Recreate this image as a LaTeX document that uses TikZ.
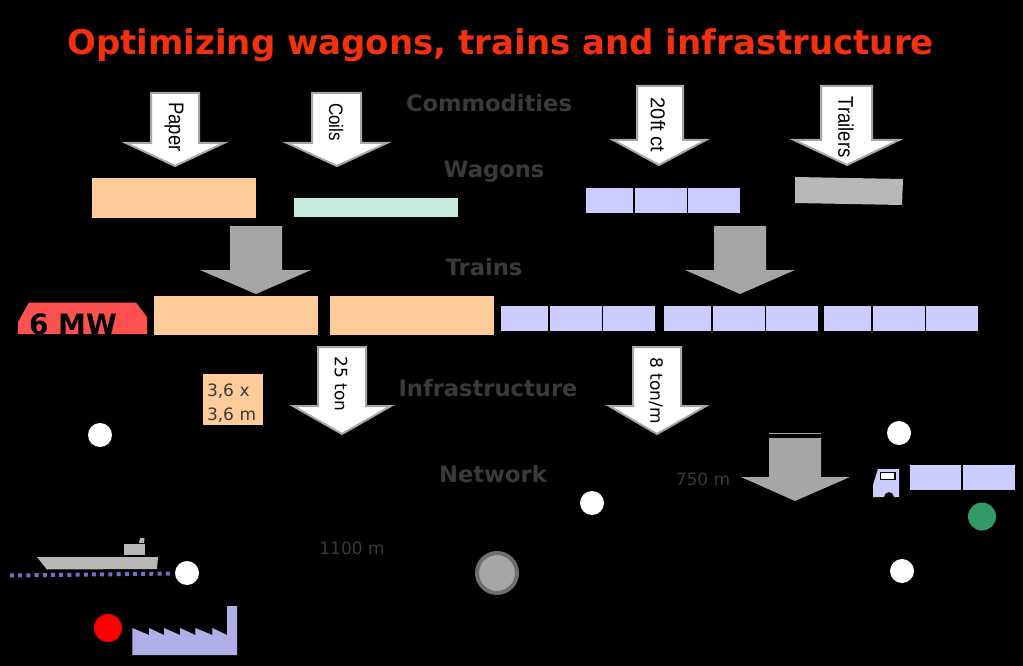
\documentclass[tikz,border=0pt]{standalone}
\usepackage{fontspec}
\setmainfont{DejaVu Sans}
\newfontfamily\arrowfont{Liberation Sans}
\usetikzlibrary{positioning}
\definecolor{TitleRed}{HTML}{F5300F}
\definecolor{LabelGrey}{HTML}{3A3A3A}
\definecolor{ArrowGrey}{HTML}{A6A6A6}
\definecolor{RingGrey}{HTML}{6E6E6E}
\definecolor{PaperOrange}{HTML}{FFCC99}
\definecolor{CoilMint}{HTML}{C6EBDD}
\definecolor{BoxLilac}{HTML}{CCCCFF}
\definecolor{TrailerGrey}{HTML}{B8B8B8}
\definecolor{LocoRed}{HTML}{FF5050}
\definecolor{WorksLilac}{HTML}{B0B0E6}
\definecolor{CanalBlue}{HTML}{7070C8}
\definecolor{PortGreen}{HTML}{339966}

\begin{document}
\begin{tikzpicture}[x=1pt,y=-1pt,node distance=1.5pt]
  \tikzstyle{heading}=[font=\fontsize{22.6}{24}\bfseries\selectfont,text=LabelGrey]
  \tikzstyle{note}=[font=\fontsize{17}{24}\selectfont,text=LabelGrey]
  \tikzstyle{inarrow}=[draw=ArrowGrey,fill=white,line width=2pt,line join=miter]
  \tikzstyle{solidarrow}=[fill=ArrowGrey]
  \tikzstyle{onarrow}=[rotate=-90,text=black,inner sep=0pt]
  \tikzstyle{load}=[fill=PaperOrange,inner sep=0pt,outer sep=0pt,anchor=north west]
  \tikzstyle{box}=[fill=BoxLilac,inner sep=0pt,outer sep=0pt,minimum width=52pt,minimum height=25pt]
  \tikzstyle{firstbox}=[box,minimum width=47pt,anchor=north west]
  \tikzstyle{place}=[circle,fill=white,inner sep=0pt,minimum size=24pt]

  \useasboundingbox (0,0) rectangle (1023,666);
  \fill[black] (0,0) rectangle (1023,666);

  \node[font=\fontsize{34}{36}\bfseries\selectfont,text=TitleRed] (title) at (500.5,45)
    {Optimizing wagons, trains and infrastructure};

  % levels
  \node[heading] (commodities) at (489,103) {Commodities};
  \node[heading] (wagons) at (494,172) {Wagons};
  \node[heading] (trains) at (484,267.5) {Trains};
  \node[heading] (infra) at (488,388) {Infrastructure};
  \node[heading] (network) at (493,474.5) {Network};

  % commodity arrows
  \draw[inarrow] (151,93)--(199,93)--(199,143)--(224,143)--(175,166)--(126,143)--(151,143)--cycle;
  \draw[inarrow] (312,93)--(361,93)--(361,143)--(387,143)--(337,166)--(287,143)--(312,143)--cycle;
  \draw[inarrow] (637,86)--(683,86)--(683,140)--(706,140)--(659,165)--(613,140)--(637,140)--cycle;
  \draw[inarrow] (821,86)--(872,86)--(872,140)--(899,140)--(847,165)--(794,140)--(821,140)--cycle;
  \node[onarrow,yscale=1.15,font=\arrowfont\fontsize{18.5}{20}\selectfont] (paper) at (174,127) {Paper};
  \node[onarrow,yscale=1.15,font=\arrowfont\fontsize{17}{20}\selectfont] (coils) at (336,122) {Coils};
  \node[onarrow,font=\arrowfont\fontsize{20}{22}\selectfont] (ct) at (658,125) {20ft ct};
  \node[onarrow,yscale=1.15,font=\arrowfont\fontsize{18.5}{20}\selectfont] (trailers) at (846,127) {Trailers};

  % wagons
  \node[load,minimum width=164pt,minimum height=40pt] (wpaper) at (92,178) {};
  \node[load,fill=CoilMint,minimum width=164pt,minimum height=19pt] (wcoils) at (294,198) {};
  \node[firstbox,minimum height=24.5pt] (wa) at (586,188) {};
  \node[box,minimum height=24.5pt,right=of wa] (wb) {};
  \node[box,minimum height=24.5pt,right=of wb] (wc) {};
  \fill[TrailerGrey] (795,177)--(903,179)--(902,205)--(795,203)--cycle;

  % into trains
  \fill[solidarrow] (230,226)--(282,226)--(282,270)--(311,270)--(256,294)--(200,270)--(230,270)--cycle;
  \fill[solidarrow] (714,226)--(766,226)--(766,270)--(795,270)--(740,294)--(685,270)--(714,270)--cycle;

  % loco and train
  \fill[LocoRed] (18,334)--(18,322)--(29,302.5)--(136,302.5)--(147,317)--(147,334)--cycle;
  \node[font=\fontsize{28}{30}\bfseries\selectfont,text=black,anchor=base,inner sep=0pt] (mw) at (73,334) {6 MW};
  \node[load,minimum width=164pt,minimum height=39pt] (ta) at (154,296) {};
  \node[load,minimum width=164pt,minimum height=39pt] (tb) at (330,296) {};
  \node[firstbox] (ca) at (501,306) {};
  \node[box,right=of ca] (cb) {};
  \node[box,right=of cb] (cc) {};
  \node[firstbox] (cd) at (664,306) {};
  \node[box,right=of cd] (ce) {};
  \node[box,right=of ce] (cf) {};
  \node[firstbox] (cg) at (824,306) {};
  \node[box,right=of cg] (ch) {};
  \node[box,right=of ch] (ci) {};

  % infrastructure limits
  \draw[inarrow] (318,347)--(366,347)--(366,406)--(391,406)--(342,434)--(293,406)--(318,406)--cycle;
  \draw[inarrow] (633,347)--(681,347)--(681,406)--(706,406)--(657,434)--(609,406)--(633,406)--cycle;
  \node[onarrow,font=\fontsize{17}{20}\selectfont] (axle) at (341,384) {25 ton};
  \node[onarrow,font=\fontsize{17}{20}\selectfont] (metre) at (656,390.5) {8 ton/m};
  \node[load,text=LabelGrey,minimum height=51pt,align=left,text width=60pt,
    font=\fontsize{17}{24}\selectfont,anchor=center] (gauge) at (233,399.5)
    {\rule{0pt}{20pt}\hspace*{4pt}3,6 x\\\hspace*{4pt}3,6 m};

  % network
  \node[place] (pa) at (100,435) {};
  \node[place] (pb) at (187,573) {};
  \node[place] (pc) at (899,433) {};
  \node[place] (pd) at (592,503) {};
  \node[place] (pe) at (902,571) {};
  \node[circle,fill=red,inner sep=0pt,minimum size=28pt] (pf) at (108,628) {};
  \node[circle,fill=PortGreen,inner sep=0pt,minimum size=28pt] (pg) at (982,516.5) {};
  \node[circle,fill=ArrowGrey,draw=RingGrey,line width=4pt,inner sep=0pt,minimum size=40pt] (ph) at (497,573) {};
  \node[note] (tlen) at (703,479) {750 m};
  \node[note] (dist) at (352,548) {1100 m};

  % train length arrow
  \draw[ArrowGrey,line width=0.8pt] (769,433.7)--(821,433.7);
  \fill[solidarrow] (769,438)--(821,438)--(821,477)--(850,477)--(795,501)--(741,477)--(769,477)--cycle;

  % truck
  \fill[BoxLilac] (873,497)--(873,485)--(878,469)--(899,469)--(899,497)--(894,497)
    arc[start angle=0,end angle=-180,radius=5]--cycle;
  \draw[black,fill=white,line width=1.3pt] (880.5,472.5) rectangle (895,479.5);
  \node[firstbox,minimum width=51.5pt] (ta1) at (909.5,465) {};
  \node[box,right=of ta1] (ta2) {};

  % ship and canal
  \fill[TrailerGrey] (37,557)--(158,557)--(157,569)--(47,569.5)--cycle;
  \fill[TrailerGrey] (124,544) rectangle (145,555);
  \fill[TrailerGrey] (140,538)--(144.5,538)--(144,543)--(139,543)--cycle;
  \draw[CanalBlue,line width=4pt,dash pattern=on 4pt off 4.2pt] (10,575.5)--(172,573.5);

  % works
  \fill[WorksLilac] (132.3,655)--(132.3,628)--(149,635)--(149,628)--(164,635)--(164,628)--(180,635)
    --(180,628)--(195.3,635)--(195.3,628)--(212.3,635)--(212.3,628)--(227,635)--(227,606)--(237,606)
    --(237,655)--cycle;
\end{tikzpicture}
\end{document}
